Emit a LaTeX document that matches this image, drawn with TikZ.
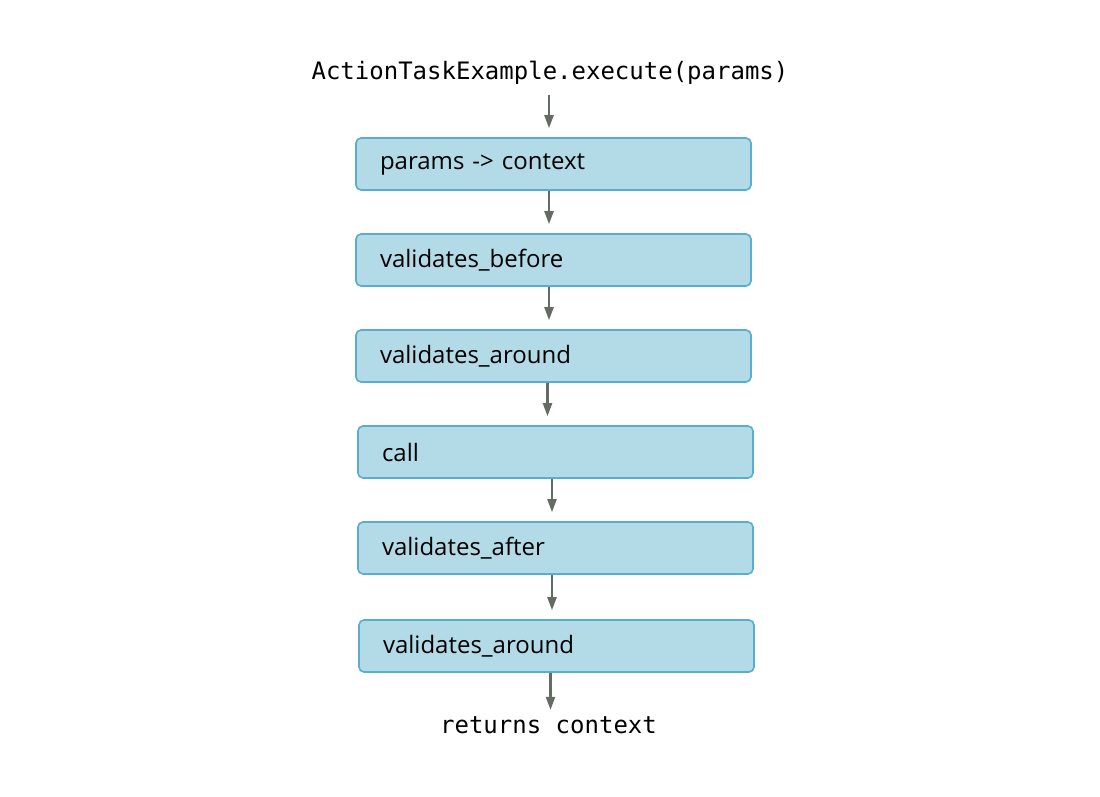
\documentclass[tikz,border=0pt]{standalone}
\usepackage{fontspec}
\setmainfont{Open Sans}
\setmonofont{DejaVu Sans Mono}
\usetikzlibrary{arrows.meta}
\definecolor{boxfill}{HTML}{B3DAE7}
\definecolor{boxline}{HTML}{5AADCF}
\definecolor{arrowgray}{HTML}{646A64}

\begin{document}
\begin{tikzpicture}[x=1pt,y=-1pt,
        stepbox/.style={draw=boxline,fill=boxfill,line width=1.6pt,rounded corners=5pt,
            minimum width=395pt,minimum height=52pt,text width=347pt,align=left,
            inner sep=0pt,font=\fontsize{24}{28}\selectfont},
        codetext/.style={font=\ttfamily\fontsize{24}{28}\selectfont},
        flow/.style={draw=arrowgray,line width=2.2pt,-{Triangle[length=13pt,width=9pt]},shorten >=9pt}]
        \useasboundingbox (0,0) rectangle (1100,797);

        \node[codetext] (start) at (550,73) {ActionTaskExample.execute(params)};% entry call

        \node[stepbox] (ctx) at (553.5,164) {params -> context};
        \node[stepbox] (before) at (553.5,260) {validates\_before};
        \node[stepbox] (around) at (553.5,356) {validates\_around};
        \node[stepbox] (call) at (555.5,452) {call};
        \node[stepbox] (after) at (555.5,548) {validates\_after};
        \node[stepbox] (aroundb) at (556.5,646) {validates\_around};

        \node[codetext] (result) at (548.5,725) {returns context};% return value

        \draw[flow,shorten <=7pt] ([xshift=-1pt]start.south) -- ([xshift=-1pt]start.south |- ctx.north);
        \draw[flow] ([xshift=-4.5pt]ctx.south) -- ([xshift=-4.5pt]before.north);
        \draw[flow] ([xshift=-4.5pt]before.south) -- ([xshift=-4.5pt]around.north);
        \draw[flow] ([xshift=-6pt]around.south) -- ([xshift=-6pt]around.south |- call.north);
        \draw[flow] ([xshift=-3.5pt]call.south) -- ([xshift=-3.5pt]after.north);
        \draw[flow] ([xshift=-3.5pt]after.south) -- ([xshift=-3.5pt]after.south |- aroundb.north);
        \draw[flow,shorten >=3pt] ([xshift=-6pt]aroundb.south) -- ([xshift=-6pt]aroundb.south |- result.north);% last arrow

    \end{tikzpicture}
\end{document}
